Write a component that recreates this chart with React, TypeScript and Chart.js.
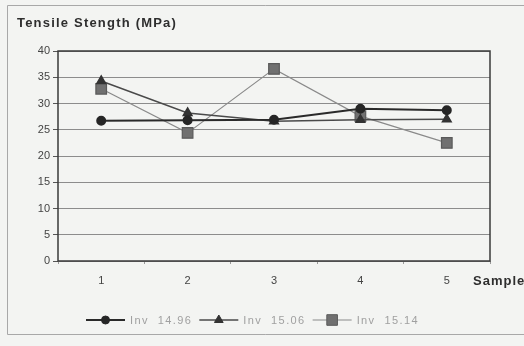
import React, { useEffect, useRef } from "react";
import { Chart, registerables } from "chart.js";

Chart.register(...registerables);

const categories = ["1", "2", "3", "4", "5"];
const seriesNames = ["Inv  14.96", "Inv  15.06", "Inv  15.14"];
const inv1496 = [26.7, 26.8, 26.9, 29.0, 28.7];
const inv1506 = [34.3, 28.2, 26.6, 26.9, 27.0];
const inv1514 = [32.8, 24.4, 36.6, 27.6, 22.5];
const yTicks = [0, 5, 10, 15, 20, 25, 30, 35, 40];
const titleText = "Tensile Stength (MPa)";
const xAxisTitle = "Sample";

const W = 524;
const H = 346;

function drawMarker(ctx: CanvasRenderingContext2D, style: string, x: number, y: number, r: number, fill: string, stroke: string) {
  ctx.save();
  ctx.fillStyle = fill;
  ctx.strokeStyle = stroke;
  ctx.lineWidth = 1;
  ctx.beginPath();
  if (style === "circle") {
    ctx.arc(x, y, r, 0, Math.PI * 2);
  } else if (style === "triangle") {
    ctx.moveTo(x, y - r);
    ctx.lineTo(x + r * 0.87, y + r * 0.5);
    ctx.lineTo(x - r * 0.87, y + r * 0.5);
    ctx.closePath();
  } else {
    const s = Math.SQRT1_2 * r;
    ctx.rect(x - s, y - s, 2 * s, 2 * s);
  }
  ctx.fill();
  ctx.stroke();
  ctx.restore();
}

const decorPlugin = {
  id: "decor",
  beforeDraw(chart: any) {
    const ctx = chart.ctx as CanvasRenderingContext2D;
    ctx.save();
    ctx.fillStyle = "#f3f4f2";
    ctx.fillRect(0, 0, W, H);
    ctx.strokeStyle = "#a8a8a8";
    ctx.lineWidth = 1;
    ctx.beginPath();
    ctx.moveTo(W, 5.5);
    ctx.lineTo(7.5, 5.5);
    ctx.lineTo(7.5, 334.5);
    ctx.lineTo(W, 334.5);
    ctx.stroke();
    ctx.restore();
  },
  beforeDatasetsDraw(chart: any) {
    const ctx = chart.ctx as CanvasRenderingContext2D;
    const a = chart.chartArea;
    ctx.save();
    ctx.strokeStyle = "#3a3a3a";
    ctx.lineWidth = 1.5;
    ctx.strokeRect(a.left, a.top, a.right - a.left, a.bottom - a.top);
    ctx.restore();
  },
  afterDraw(chart: any) {
    const ctx = chart.ctx as CanvasRenderingContext2D;
    ctx.save();
    ctx.fillStyle = "#2e2e2e";
    ctx.font = "bold 13px 'Liberation Sans', Arial, sans-serif";
    (ctx as any).letterSpacing = "1.2px";
    ctx.textAlign = "left";
    ctx.textBaseline = "middle";
    ctx.fillText(titleText, 17, 23);
    (ctx as any).letterSpacing = "1px";
    ctx.fillText(xAxisTitle, 473, 281);
    ctx.font = "11px 'Liberation Sans', Arial, sans-serif";
    (ctx as any).letterSpacing = "1.4px";
    let x = 86;
    const y = 320;
    chart.data.datasets.forEach((ds: any) => {
      ctx.strokeStyle = ds.borderColor;
      ctx.lineWidth = ds.borderWidth;
      ctx.beginPath();
      ctx.moveTo(x, y);
      ctx.lineTo(x + 39, y);
      ctx.stroke();
      drawMarker(ctx, ds.pointStyle, x + 19.5, y, ds.pointRadius, ds.pointBackgroundColor, ds.pointBorderColor);
      ctx.fillStyle = "#a0a0a0";
      ctx.fillText(ds.label, x + 44, y + 1);
      const tw = ctx.measureText(ds.label).width;
      x = x + 44 + tw + 7;
    });
    ctx.restore();
  },
};

export default function App() {
  const ref = useRef<HTMLCanvasElement | null>(null);
  useEffect(() => {
    document.body.style.margin = "0";
    const canvas = ref.current!;
    const chart = new Chart(canvas, {
      type: "line",
      data: {
        labels: categories,
        datasets: [
          {
            label: seriesNames[0],
            data: inv1496,
            borderColor: "#2a2a2a",
            borderWidth: 2,
            pointStyle: "circle",
            pointRadius: 4,
            pointBackgroundColor: "#262626",
            pointBorderColor: "#262626",
            tension: 0,
          },
          {
            label: seriesNames[1],
            data: inv1506,
            borderColor: "#4a4a4a",
            borderWidth: 1.5,
            pointStyle: "triangle",
            pointRadius: 5,
            pointBackgroundColor: "#333333",
            pointBorderColor: "#333333",
            tension: 0,
          },
          {
            label: seriesNames[2],
            data: inv1514,
            borderColor: "#8a8a8a",
            borderWidth: 1.2,
            pointStyle: "rect",
            pointRadius: 7.5,
            pointBackgroundColor: "#707070",
            pointBorderColor: "#5a5a5a",
            tension: 0,
          },
        ],
      },
      options: {
        responsive: false,
        animation: false,
        devicePixelRatio: 1,
        layout: { padding: { left: 17, right: 34, top: 51, bottom: 55 } },
        plugins: {
          legend: { display: false },
          title: { display: false },
          tooltip: { enabled: false },
        },
        scales: {
          x: {
            offset: true,
            border: { display: false },
            grid: {
              offset: true,
              drawOnChartArea: false,
              drawTicks: true,
              tickLength: 3,
              tickColor: "#999",
            },
            ticks: {
              color: "#444",
              font: { size: 11, family: "'Liberation Sans', Arial, sans-serif" },
              padding: 10,
            },
            afterFit: (s: any) => {
              s.height = 30;
            },
          },
          y: {
            min: 0,
            max: 40,
            border: { display: false },
            afterBuildTicks: (s: any) => {
              s.ticks = yTicks.map((v) => ({ value: v }));
            },
            grid: {
              color: "#8c8c8c",
              lineWidth: 1,
              tickLength: 5,
              tickColor: "#555",
            },
            ticks: {
              color: "#444",
              font: { size: 11, family: "'Liberation Sans', Arial, sans-serif" },
              padding: 3,
            },
            afterFit: (s: any) => {
              s.width = 41;
            },
          },
        },
      },
      plugins: [decorPlugin],
    } as any);
    return () => chart.destroy();
  }, []);
  return <canvas ref={ref} width={W} height={H} style={{ width: W, height: H, display: "block" }} />;
}
